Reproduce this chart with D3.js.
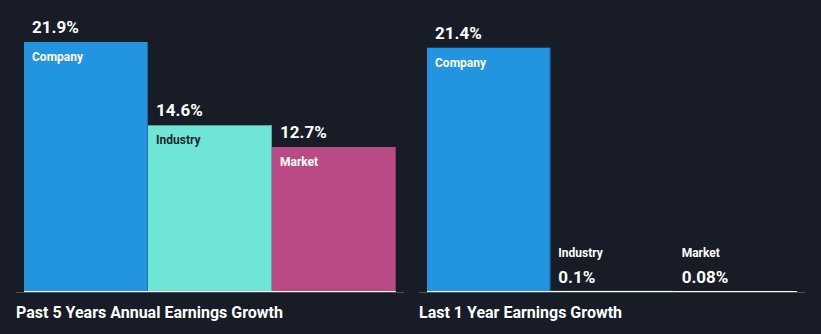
<!DOCTYPE html>
<html><head><meta charset="utf-8">
<script src="https://cdn.jsdelivr.net/npm/d3@7"></script>
<style>html,body{margin:0;padding:0;background:#171c26;}svg{display:block;}</style>
</head><body>
<svg id="c" width="821" height="334"></svg>
<script>
const categories = ["Company", "Industry", "Market"];
const past5Years = [21.9, 14.6, 12.7];
const past5Labels = ["21.9%", "14.6%", "12.7%"];
const last1Year = [21.4, 0.1, 0.08];
const last1Labels = ["21.4%", "0.1%", "0.08%"];
const panelTitles = ["Past 5 Years Annual Earnings Growth", "Last 1 Year Earnings Growth"];

const colors = {Company: "#2394df", Industry: "#6fe6d5", Market: "#ba4a86"};
const labelColors = {Company: "#ffffff", Industry: "#1e2530", Market: "#ffffff"};
const font = "Roboto, 'Open Sans', sans-serif";

const svg = d3.select("#c");
svg.append("rect").attr("width", 821).attr("height", 334).attr("fill", "#171c26");

const baseY = 292;
const y = d3.scaleLinear().domain([0, 21.9]).range([baseY, 42]);

const panels = [
  {values: past5Years, labels: past5Labels, title: panelTitles[0], x0: 24, x1: 396, axisX0: 16, titleX: 16},
  {values: last1Year, labels: last1Labels, title: panelTitles[1], x0: 427, x1: 797, axisX0: 419, titleX: 419}
];

panels.forEach(p => {
  const x = d3.scaleBand().domain(categories).range([p.x0, p.x1]).padding(0);
  const g = svg.append("g");
  g.append("line").attr("x1", p.axisX0).attr("x2", p.x1 + 8).attr("y1", baseY + 0.5).attr("y2", baseY + 0.5)
    .attr("stroke", "#4b515c").attr("stroke-width", 1);
  categories.forEach((c, i) => {
    const v = p.values[i];
    const top = y(v);
    const h = baseY - top;
    const bx = x(c), bw = x.bandwidth();
    g.append("rect").attr("x", bx).attr("y", top).attr("width", bw).attr("height", h)
      .attr("fill", colors[c]);
    if (h > 3) {
      g.append("line").attr("x1", bx + bw - 0.5).attr("x2", bx + bw - 0.5).attr("y1", top).attr("y2", baseY)
        .attr("stroke", d3.color(colors[c]).darker(0.8)).attr("stroke-width", 1);
    }
    g.append("line").attr("x1", bx).attr("x2", bx + bw).attr("y1", baseY - 0.5).attr("y2", baseY - 0.5)
      .attr("stroke", "#ffffff").attr("stroke-width", 1);
    if (h > 40) {
      g.append("text").attr("x", bx + 8).attr("y", top - 9).text(p.labels[i])
        .attr("fill", "#ffffff").attr("font-family", font).attr("font-weight", "bold").attr("font-size", 17);
      g.append("text").attr("x", bx + 8).attr("y", top + 19).text(c)
        .attr("fill", labelColors[c]).attr("font-family", font).attr("font-weight", "bold").attr("font-size", 12);
    } else {
      g.append("text").attr("x", bx + 8).attr("y", baseY - 9).text(p.labels[i])
        .attr("fill", "#ffffff").attr("font-family", font).attr("font-weight", "bold").attr("font-size", 17);
      g.append("text").attr("x", bx + 8).attr("y", baseY - 35).text(c)
        .attr("fill", "#ffffff").attr("font-family", font).attr("font-weight", "bold").attr("font-size", 12);
    }
  });
  g.append("text").attr("x", p.titleX).attr("y", 318).text(p.title)
    .attr("fill", "#ffffff").attr("font-family", font).attr("font-weight", "bold").attr("font-size", 16);
});
</script>
</body></html>
